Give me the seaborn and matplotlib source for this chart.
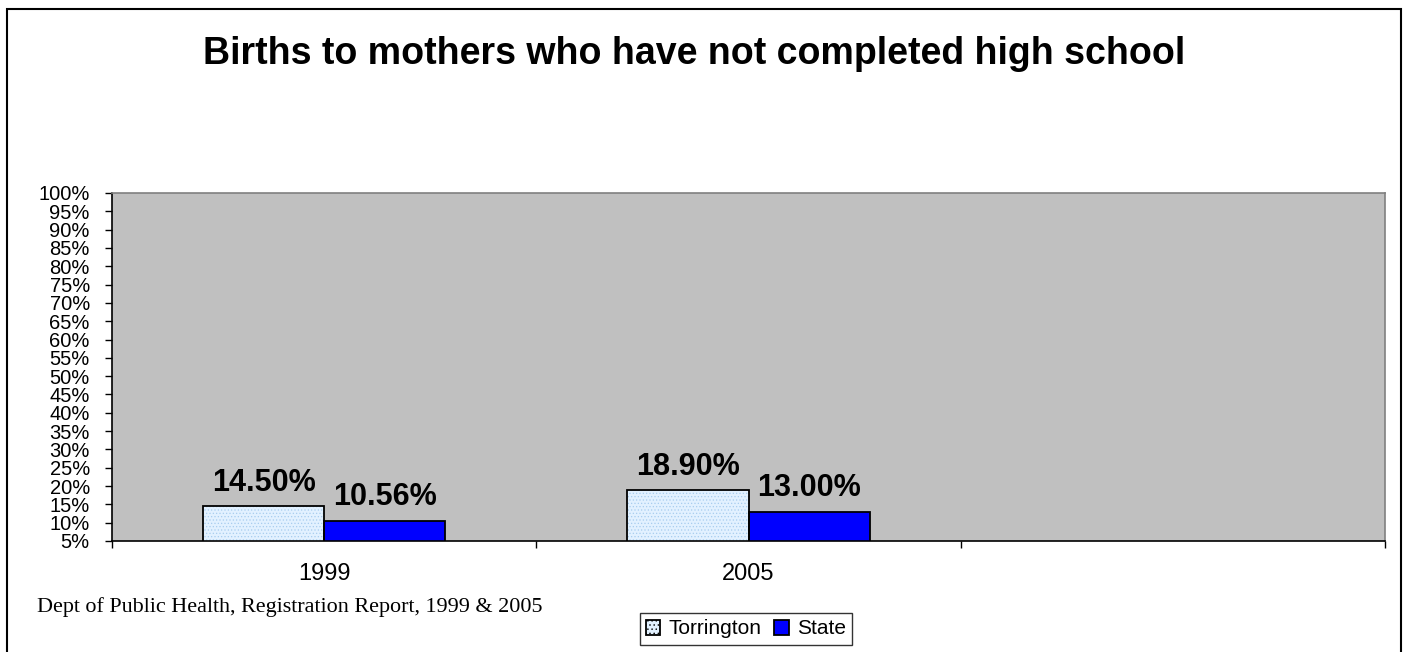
import matplotlib
matplotlib.use('Agg')
import matplotlib.pyplot as plt
import seaborn as sns
import pandas as pd

# 数据
years = ['1999', '2005']
torrington = [14.50, 18.90]
state = [10.56, 13.00]
series_names = ['Torrington', 'State']
slots = ['1999', '2005', '']  # 第三个类别为空
y_ticks = list(range(5, 101, 5))

title = 'Births to mothers who have not completed high school'
source = 'Dept of Public Health, Registration Report, 1999 & 2005'

sns.set_style('white')
plt.rcParams['font.family'] = ['Liberation Sans', 'DejaVu Sans']
plt.rcParams['text.color'] = 'black'
plt.rcParams['xtick.color'] = 'black'
plt.rcParams['ytick.color'] = 'black'
plt.rcParams['hatch.linewidth'] = 0.5

df = pd.DataFrame({
    'year': years * 2,
    'value': torrington + state,
    'series': [series_names[0]] * len(years) + [series_names[1]] * len(years),
})

fig = plt.figure(figsize=(14.03, 6.52), dpi=100)
ax = fig.add_axes([112 / 1403, 1 - 541 / 652, (1385 - 112) / 1403, (541 - 193) / 652])
ax.set_facecolor('#c0c0c0')

sns.barplot(data=df, x='year', y='value', hue='series', order=slots,
            hue_order=series_names, palette=['#e2f1ff', '#0000ff'],
            width=2 / 3.5, gap=0, saturation=1, edgecolor='black',
            linewidth=1.3, ax=ax, legend=True)

# Torrington 柱子：浅蓝点状填充，外框另画
for bar in ax.containers[0]:
    bar.set_hatch('.....')
    bar.set_edgecolor('#a8cdef')
    bar.set_linewidth(0)
    ax.add_patch(plt.Rectangle(bar.get_xy(), bar.get_width(), bar.get_height(),
                               fill=False, edgecolor='black', linewidth=1.3))

for cont in ax.containers:
    ax.bar_label(cont, fmt='%.2f%%', padding=6, fontsize=22, fontweight='bold')

ax.set_xlim(-0.5, 2.5)
ax.set_ylim(5, 100)
ax.set_yticks(y_ticks)
ax.set_yticklabels([f'{t}%' for t in y_ticks], fontsize=14.5)
ax.tick_params(axis='y', direction='out', length=5, width=1, left=True, pad=11)

# x 轴：刻度在类别分界处，标签在中间
ax.set_xticks([-0.5, 0.5, 1.5, 2.5])
ax.set_xticklabels([])
ax.tick_params(axis='x', which='major', direction='out', length=5, width=1, bottom=True)
ax.set_xticks([0, 1], minor=True)
ax.set_xticklabels(years, minor=True, fontsize=17)
ax.tick_params(axis='x', which='minor', length=0, pad=16)
ax.set_xlabel('')
ax.set_ylabel('')

for s in ['left', 'bottom']:
    ax.spines[s].set_color('black')
    ax.spines[s].set_linewidth(1.2)
for s in ['top', 'right']:
    ax.spines[s].set_color('#808080')
    ax.spines[s].set_linewidth(1.2)

# 图例
handles, labels = ax.get_legend_handles_labels()
ax.get_legend().remove()
leg = fig.legend(handles, labels, loc='center', ncol=2,
                 bbox_to_anchor=(746 / 1403, 1 - 629 / 652), fontsize=15,
                 frameon=True, fancybox=False, edgecolor='black',
                 handlelength=0.7, handleheight=0.7, handletextpad=0.4,
                 columnspacing=0.6, borderpad=0.3, borderaxespad=0)
leg.get_frame().set_linewidth(1)
leg.legend_handles[0].set_hatch('....')
leg.legend_handles[0].set_edgecolor('black')

fig.text(0.495, 1 - 54 / 652, title, ha='center', va='center',
         fontsize=27, fontweight='bold')
fig.text(37 / 1403, 1 - 607 / 652, source, ha='left', va='center',
         fontsize=15.9, family='Liberation Serif')

# 外框
fig.add_artist(plt.Rectangle((7 / 1403, -0.05), (1401 - 7) / 1403, 1.05 - 9 / 652,
                             transform=fig.transFigure, fill=False,
                             edgecolor='black', linewidth=1.5))

plt.savefig('out.png', dpi=100)
plt.close()
